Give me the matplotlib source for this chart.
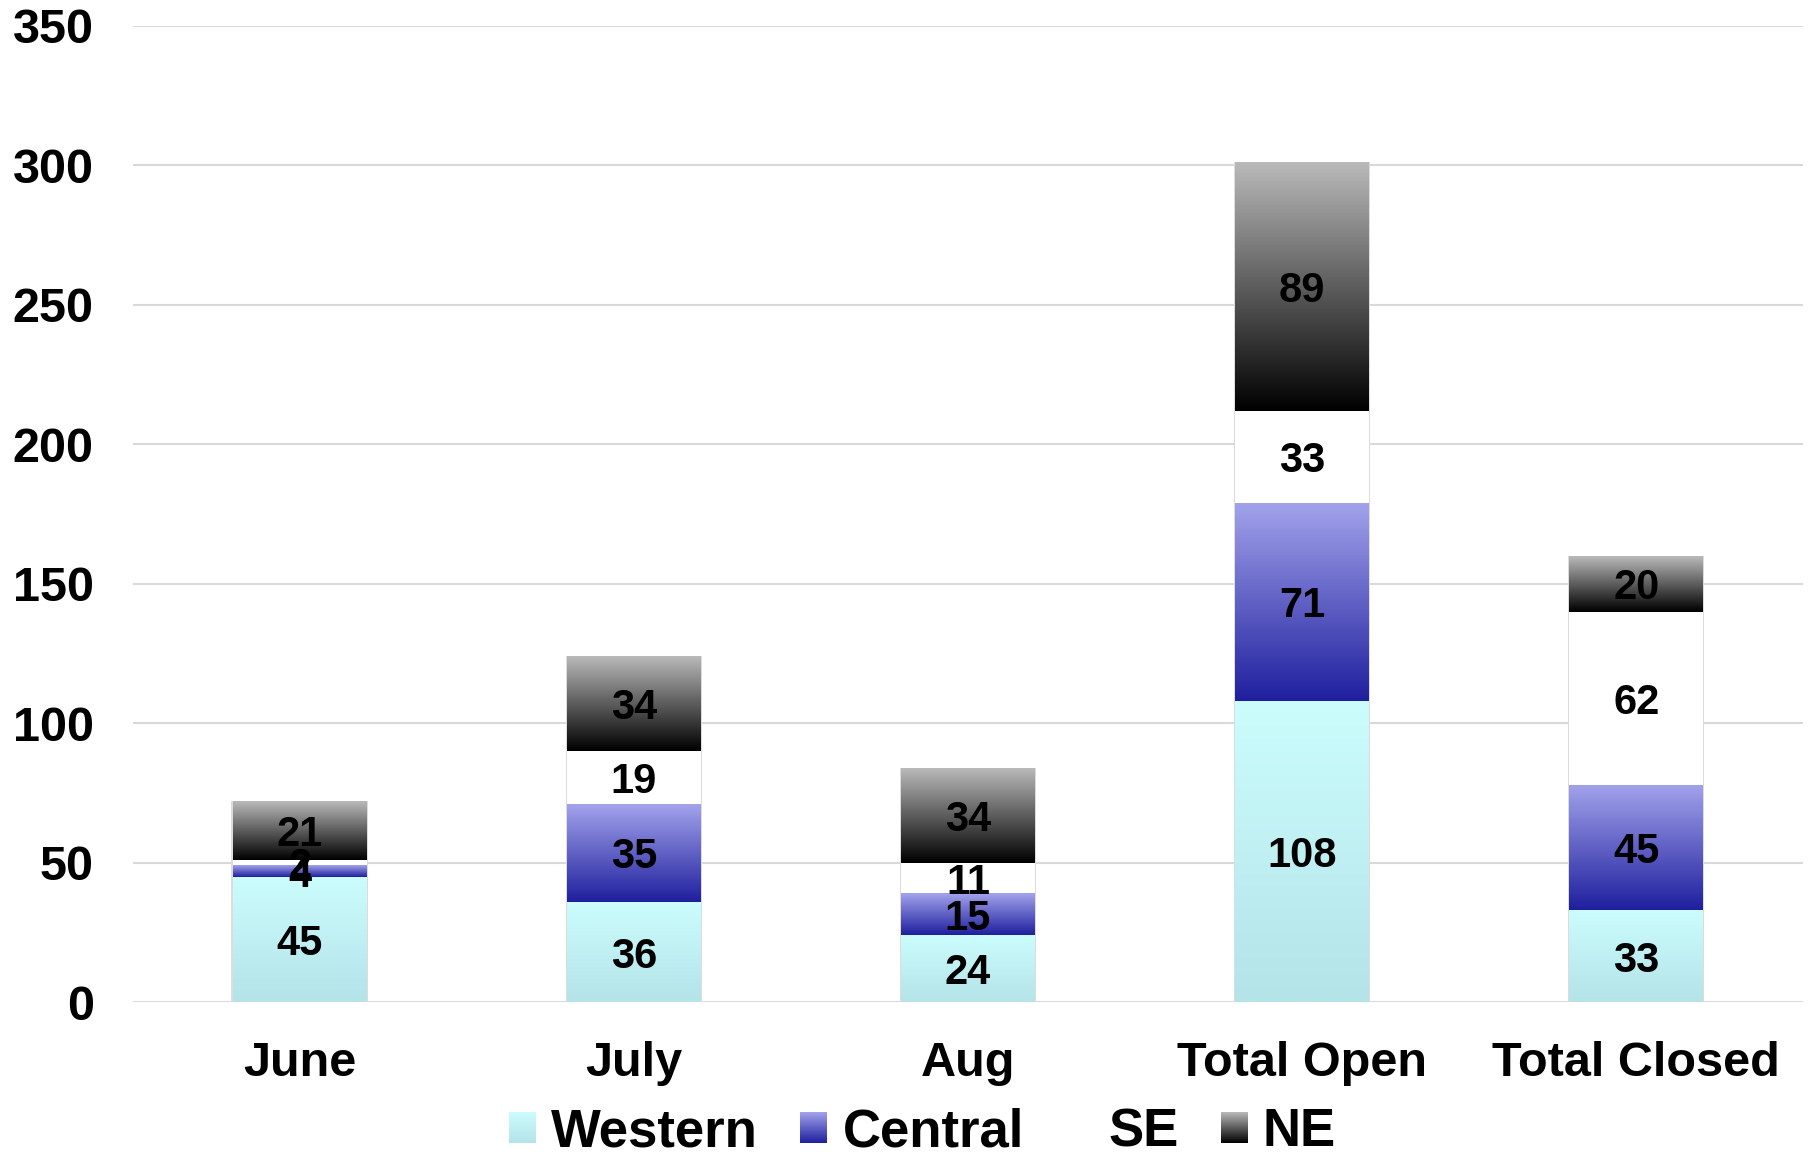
import numpy as np
import matplotlib.pyplot as plt
from matplotlib.colors import LinearSegmentedColormap
from matplotlib.legend_handler import HandlerBase
from matplotlib.image import BboxImage
from matplotlib.transforms import Bbox, TransformedBbox

plt.rcParams['font.family'] = ['Liberation Sans', 'DejaVu Sans']
plt.rcParams['font.weight'] = 'bold'

categories = ['June', 'July', 'Aug', 'Total Open', 'Total Closed']
series = ['Western', 'Central', 'SE', 'NE']
western = [45, 36, 24, 108, 33]
central = [4, 35, 15, 71, 45]
se = [2, 19, 11, 33, 62]
ne = [21, 34, 34, 89, 20]
values = [western, central, se, ne]

# top colour, bottom colour of each gradient
grads = {
    'Western': ('#ccfdfd', '#b4e3e8'),
    'Central': ('#a3a3ec', '#1f1f9e'),
    'SE': ('#ffffff', '#ffffff'),
    'NE': ('#bababa', '#000000'),
}


def grad_img(name):
    top, bot = grads[name]
    cm = LinearSegmentedColormap.from_list(name, [bot, top])
    return cm(np.linspace(0, 1, 256).reshape(-1, 1))


fig = plt.figure(figsize=(18.16, 11.6), dpi=100)
ax = fig.add_axes([0.073, 0.136, 0.92, 0.842])

x = np.arange(len(categories))
totals = np.sum(values, axis=0)
# faint shadow behind each stack
ax.bar(x, totals + 0.6, 0.408, bottom=-0.6, color='#dcdcdc', zorder=1.5)

bottom = np.zeros(len(categories))
for name, vals in zip(series, values):
    bars = ax.bar(x, vals, 0.4, bottom=bottom, facecolor='none',
                  edgecolor='none', zorder=3)
    img = grad_img(name)
    for b in bars:
        x0, y0 = b.get_x(), b.get_y()
        im = ax.imshow(img, extent=(x0, x0 + b.get_width(), y0, y0 + b.get_height()),
                       origin='lower', aspect='auto', zorder=2, interpolation='bilinear')
        im.set_clip_path(b)
    for xi, bi, v in zip(x, bottom, vals):
        ax.text(xi, bi + v / 2, str(v), ha='center', va='center_baseline',
                fontsize=30, fontweight='bold', color='black', zorder=5)
    bottom = bottom + np.array(vals)

ax.set_xlim(-0.5, len(categories) - 0.5)
ax.set_ylim(0, 350)
ax.set_yticks(np.arange(0, 351, 50))
ax.set_xticks(x)
ax.set_xticklabels(categories)
ax.tick_params(axis='y', length=0, pad=28, labelsize=35)
ax.tick_params(axis='x', length=0, pad=28, labelsize=35)
for lab in ax.get_xticklabels() + ax.get_yticklabels():
    lab.set_fontweight('bold')
ax.grid(axis='y', color='#d9d9d9', linewidth=1.5, zorder=0)
ax.set_axisbelow(True)
for s in ax.spines.values():
    s.set_visible(False)


class GradHandler(HandlerBase):
    def create_artists(self, legend, orig_handle, xdescent, ydescent,
                       width, height, fontsize, trans):
        name = orig_handle.get_label()
        bb = TransformedBbox(Bbox.from_bounds(-xdescent, -ydescent, width, height), trans)
        im = BboxImage(bb, interpolation='bilinear')
        im.set_data(grad_img(name)[::-1])
        return [im]


handles = [plt.Rectangle((0, 0), 1, 1, label=n) for n in series]
fig.legend(handles, series, handler_map={plt.Rectangle: GradHandler()},
           loc='lower center', bbox_to_anchor=(0.508, 0.0), ncol=4, frameon=False,
           prop={'size': 38, 'weight': 'bold'}, handlelength=0.5, handleheight=0.5,
           handletextpad=0.3, columnspacing=0.8, borderpad=0, borderaxespad=0.05)

fig.savefig('out.png', dpi=100)
